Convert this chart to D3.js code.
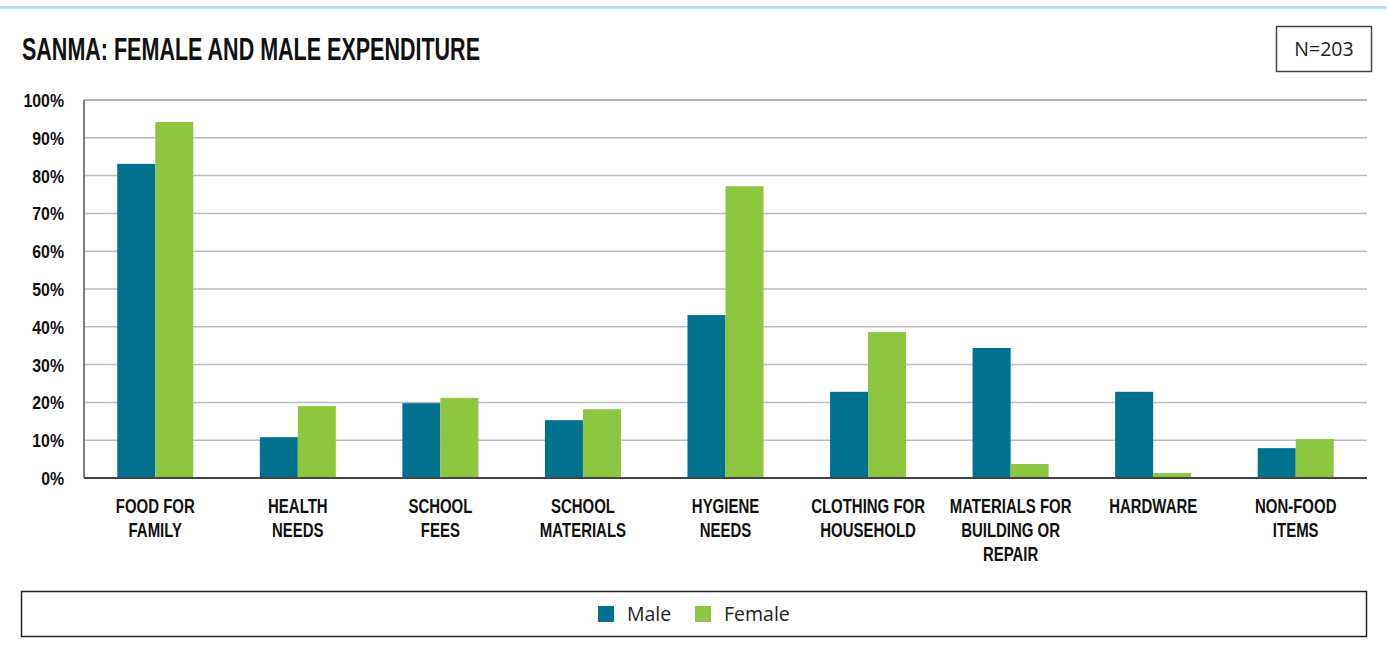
<!DOCTYPE html>
<html>
<head>
<meta charset="utf-8">
<script src="https://cdn.jsdelivr.net/npm/d3@7"></script>
<style>
  html, body { margin: 0; padding: 0; background: #fff; }
  svg { display: block; }
</style>
</head>
<body>
<svg id="chart" width="1387" height="660"></svg>
<script>
// ---- data ----
const categories = [
  ["FOOD FOR", "FAMILY"],
  ["HEALTH", "NEEDS"],
  ["SCHOOL", "FEES"],
  ["SCHOOL", "MATERIALS"],
  ["HYGIENE", "NEEDS"],
  ["CLOTHING FOR", "HOUSEHOLD"],
  ["MATERIALS FOR", "BUILDING OR", "REPAIR"],
  ["HARDWARE"],
  ["NON-FOOD", "ITEMS"]
];
const seriesNames = ["Male", "Female"];
const maleValues   = [83.1, 10.8, 19.8, 15.3, 43.1, 22.8, 34.4, 22.8, 7.9];
const femaleValues = [94.2, 19.0, 21.2, 18.2, 77.2, 38.6, 3.7, 1.3, 10.3];
const yTicks = [0, 10, 20, 30, 40, 50, 60, 70, 80, 90, 100];
const titleText = "SANMA: FEMALE AND MALE EXPENDITURE";
const sampleText = "N=203";

(function () {
const colors = { Male: "#00728f", Female: "#8dc63f" };
const condFont = "'Liberation Sans', Arial, sans-serif";
const bodyFont = "'Open Sans', 'Noto Sans', sans-serif";
const xSqueeze = 0.73, ySqueeze = 0.88;

const svg = d3.select("#chart");

// top decorative line
svg.append("rect").attr("x", 0).attr("y", 6).attr("width", 1387).attr("height", 3)
  .attr("fill", "#b5e2ea");

// title
svg.append("text")
  .attr("x", 22).attr("y", 60)
  .attr("font-family", condFont).attr("font-weight", "bold")
  .attr("font-size", 31).attr("fill", "#111")
  .attr("textLength", 458).attr("lengthAdjust", "spacingAndGlyphs")
  .text(titleText);

// N box
svg.append("rect").attr("x", 1276.5).attr("y", 26.5).attr("width", 95).attr("height", 45)
  .attr("fill", "#fff").attr("stroke", "#444").attr("stroke-width", 1.5);
svg.append("text").attr("x", 1324).attr("y", 56)
  .attr("text-anchor", "middle").attr("font-family", bodyFont)
  .attr("font-size", 19.5).attr("fill", "#222").text(sampleText);

// scales
const pLeft = 84, pRight = 1367, pTop = 100, pBottom = 478;
const data = categories.map((c, i) => ({ key: c.join(" "), lines: c, Male: maleValues[i], Female: femaleValues[i] }));

const x0 = d3.scaleBand().domain(data.map(d => d.key)).range([pLeft, pRight]).paddingInner(0).paddingOuter(0);
const x1 = d3.scaleBand().domain(seriesNames).range([0, x0.bandwidth()]).paddingInner(0).paddingOuter(0.875);
const y = d3.scaleLinear().domain([0, 100]).range([pBottom, pTop]);

// gridlines
const grid = svg.append("g");
grid.selectAll("line").data(yTicks.filter(t => t > 0)).join("line")
  .attr("x1", pLeft).attr("x2", pRight)
  .attr("y1", d => y(d)).attr("y2", d => y(d))
  .attr("stroke", d => d === 100 ? "#9a9a9a" : "#bdbdbd")
  .attr("stroke-width", 1.5);

// y axis labels
const yAxis = d3.axisLeft(y).tickValues(yTicks).tickFormat(d => d + "%").tickSize(0).tickPadding(20);
const yg = svg.append("g").attr("transform", `translate(${pLeft},0)`).call(yAxis);
yg.select(".domain").remove();
yg.selectAll("text")
  .attr("font-family", condFont).attr("font-weight", "bold")
  .attr("font-size", 18).attr("fill", "#111").attr("dy", "0.36em")
  .attr("x", -20 / ySqueeze)
  .attr("transform", `scale(${ySqueeze},1)`);

// bars
const groups = svg.append("g").selectAll("g").data(data).join("g")
  .attr("transform", d => `translate(${x0(d.key)},0)`);
groups.selectAll("rect").data(d => seriesNames.map(s => ({ s, v: d[s] }))).join("rect")
  .attr("x", d => x1(d.s))
  .attr("width", x1.bandwidth())
  .attr("y", d => y(d.v))
  .attr("height", d => y(0) - y(d.v))
  .attr("fill", d => colors[d.s]);

// axis lines
svg.append("line").attr("x1", pLeft).attr("x2", pLeft).attr("y1", pTop).attr("y2", pBottom)
  .attr("stroke", "#555").attr("stroke-width", 1.5);
svg.append("line").attr("x1", pLeft).attr("x2", pRight).attr("y1", pBottom).attr("y2", pBottom)
  .attr("stroke", "#444").attr("stroke-width", 2);

// x labels
const xl = svg.append("g");
data.forEach(d => {
  const cx = x0(d.key) + x0.bandwidth() / 2;
  d.lines.forEach((ln, j) => {
    xl.append("text")
      .attr("transform", `translate(${cx},${513 + j * 24}) scale(${xSqueeze},1)`)
      .attr("text-anchor", "middle")
      .attr("font-family", condFont).attr("font-weight", "bold")
      .attr("font-size", 20.5).attr("fill", "#111")
      .text(ln);
  });
});

// legend
svg.append("rect").attr("x", 21.5).attr("y", 591.5).attr("width", 1345).attr("height", 45)
  .attr("fill", "none").attr("stroke", "#222").attr("stroke-width", 1.5);
const legendX = { Male: 598, Female: 695 };
const lg = svg.append("g");
seriesNames.forEach(s => {
  lg.append("rect").attr("x", legendX[s]).attr("y", 606).attr("width", 16).attr("height", 16)
    .attr("fill", colors[s]);
  lg.append("text").attr("x", legendX[s] + 29).attr("y", 621)
    .attr("font-family", bodyFont).attr("font-size", 19.5).attr("fill", "#222").text(s);
});
})();
</script>
</body>
</html>
